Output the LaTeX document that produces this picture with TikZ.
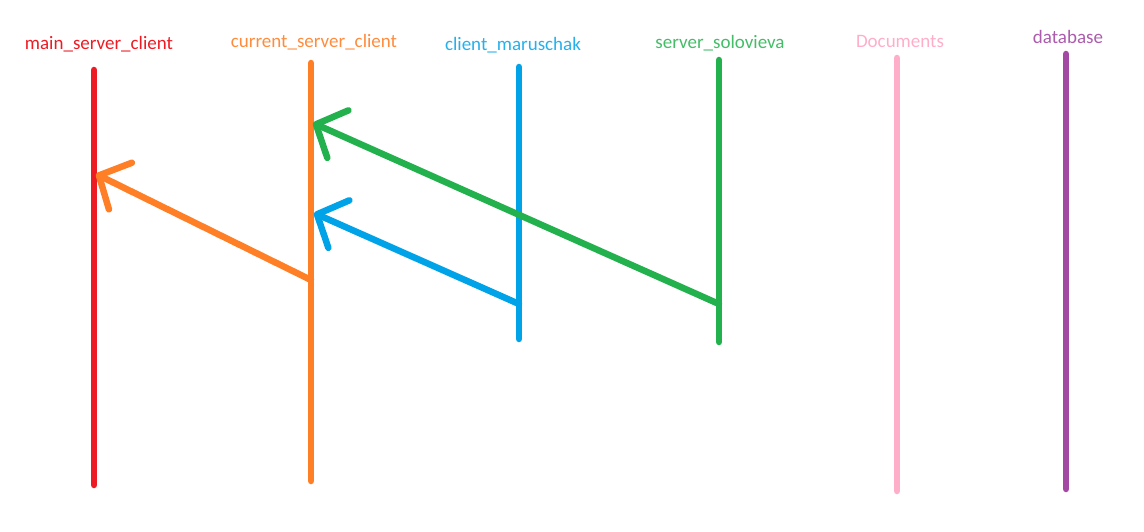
\documentclass[tikz,border=0pt]{standalone}
\usepackage{fontspec}
\setmainfont{Carlito}
\usetikzlibrary{arrows.meta}
\definecolor{pred}{HTML}{ED1C24}
\definecolor{porange}{HTML}{FF7F27}
\definecolor{pblue}{HTML}{00A2E8}
\definecolor{pgreen}{HTML}{22B14C}
\definecolor{ppink}{HTML}{FFAEC9}
\definecolor{ppurple}{HTML}{A349A4}
\tikzset{
  life/.style={line width=6.5pt, line cap=round},
  msg/.style={line width=6.5pt, line cap=round,
    -{Straight Barb[length=24pt, width=52pt, line cap=round, line join=round]}},
  lbl/.style={font=\fontsize{19}{22}\selectfont}
}

\begin{document}
\begin{tikzpicture}[x=1pt, y=-1pt]
    \useasboundingbox (0,0) rectangle (1144,532);
    \begin{scope}
      % lifelines
      \node[lbl, text=pred] (mainlbl) at (99,44) {main\_server\_client};
      \node[lbl, text=porange!90] (curlbl) at (314,42) {current\_server\_client};
      \node[lbl, text=pblue!85] (clilbl) at (513,45) {client\_maruschak};
      \node[lbl, text=pgreen!85] (srvlbl) at (720,43) {server\_solovieva};
      \node[lbl, text=ppink] (doclbl) at (900,41) {Documents};
      \node[lbl, text=ppurple!90] (dblbl) at (1068,37) {database};
      \coordinate (maintop) at (94,70);   \coordinate (mainbot) at (94,485);
      \coordinate (curtop) at (311,63);   \coordinate (curbot) at (311,481);
      \coordinate (clitop) at (519,67);   \coordinate (clibot) at (519,339);
      \coordinate (srvtop) at (719,60);   \coordinate (srvbot) at (719,342);
      \coordinate (doctop) at (897,58);   \coordinate (docbot) at (897,491);
      \coordinate (dbtop) at (1066,54);   \coordinate (dbbot) at (1066,489);
      \draw[life, pred] (maintop) -- (mainbot);
      \draw[life, porange] (curtop) -- (curbot);
      \draw[life, pblue] (clitop) -- (clibot);
      \draw[life, pgreen] (srvtop) -- (srvbot);
      \draw[life, ppink] (doctop) -- (docbot);
      \draw[life, ppurple] (dbtop) -- (dbbot);
      % messages
      \coordinate (curout) at (311,280);  \coordinate (mainin) at (96,174);
      \coordinate (cliout) at (519,304);  \coordinate (curin1) at (314,213);
      \coordinate (srvout) at (719,304);  \coordinate (curin2) at (313,123);
      \draw[msg, porange] (curout) -- (mainin);
      \draw[msg, pblue] (cliout) -- (curin1);
      \draw[msg, pgreen] (srvout) -- (curin2);
    \end{scope}
\end{tikzpicture}
\end{document}
